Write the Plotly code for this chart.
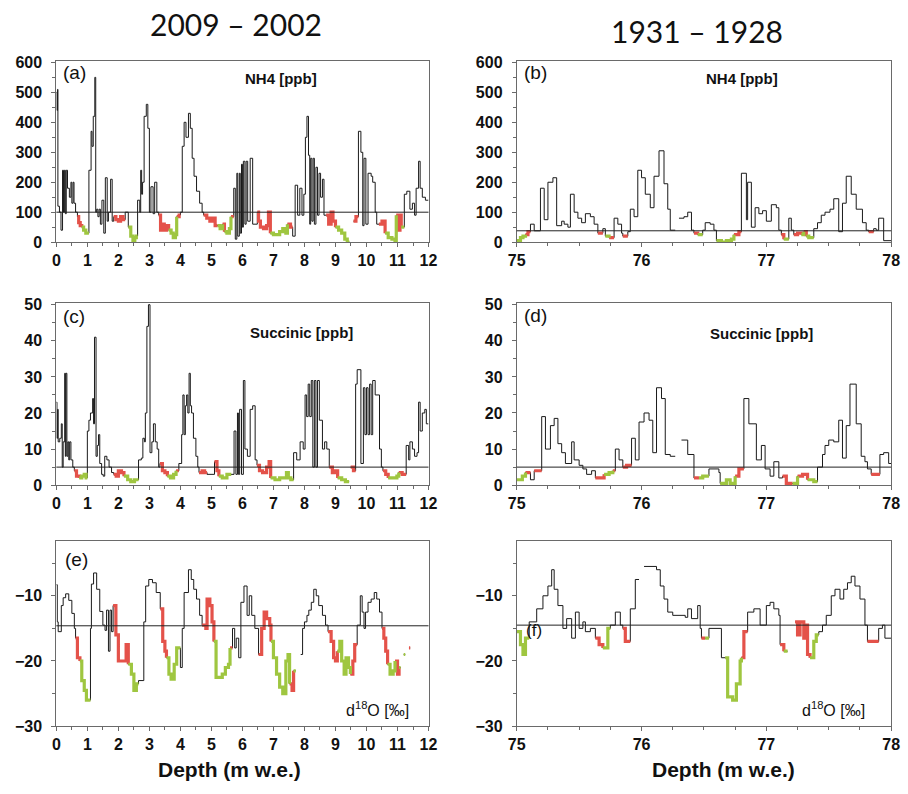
import plotly.graph_objects as go

W, H = 908, 794

# ---------------- (a) NH4, 2009-2002 ----------------
a_depth = [0.00,0.02,0.04,0.05,0.10,0.15,0.20,0.23,0.26,0.29,
           0.32,0.36,0.42,0.47,0.50,0.54,0.57,0.62,0.68,0.72,
           0.77,0.82,0.88,0.95,1.05,1.12,1.15,1.19,1.24,1.27,
           1.30,1.34,1.38,1.42,1.47,1.53,1.58,1.64,1.68,1.75,
           1.80,1.85,1.92,2.00,2.07,2.15,2.22,2.32,2.40,2.47,
           2.53,2.58,2.62,2.69,2.72,2.75,2.78,2.83,2.90,2.95,
           3.00,3.05,3.12,3.17,3.24,3.30,3.36,3.42,3.48,3.55,
           3.62,3.70,3.77,3.84,3.88,3.96,4.00,4.06,4.12,4.18,
           4.26,4.32,4.38,4.44,4.52,4.62,4.70,4.75,4.85,4.95,
           5.05,5.12,5.20,5.28,5.36,5.42,5.50,5.58,5.63,5.72,
           5.77,5.82,5.85,5.90,5.93,5.97,6.00,6.03,6.08,6.12,
           6.17,6.25,6.33,6.40,6.48,6.52,6.58,6.68,6.78,6.84,
           6.90,7.00,7.10,7.20,7.30,7.40,7.45,7.55,7.62,7.70,
           7.78,7.85,7.92,7.98,8.03,8.08,8.13,8.17,8.20,8.24,
           8.28,8.32,8.37,8.42,8.47,8.52,8.58,8.63,8.70,8.78,
           8.86,8.92,9.00,9.10,9.20,9.30,9.38,9.45,9.58,9.66,
           9.74,9.82,9.88,9.92,9.98,10.05,10.15,10.20,10.28,10.33,
           10.40,10.50,10.60,10.70,10.82,10.92,10.96,11.02,11.08,11.12,
           11.22,11.30,11.40,11.48,11.55,11.60,11.68,11.73,11.80,11.90]
a_nh4 = [500,440,510,120,100,40,240,100,240,95,
         240,180,150,200,130,200,130,100,85,65,
         55,50,40,30,240,370,320,420,550,100,
         110,85,110,60,140,30,215,70,100,210,
         70,85,75,70,85,75,100,50,20,0,
         15,20,140,100,240,160,200,420,460,380,
         100,185,95,200,100,90,40,60,40,55,
         40,30,15,25,85,90,100,320,400,350,
         430,380,280,220,170,130,100,90,80,70,
         80,55,55,45,60,35,30,45,85,180,
         10,230,20,230,30,260,50,270,60,270,
         70,280,60,60,100,70,50,45,55,100,
         30,25,25,35,45,30,60,50,20,190,
         90,180,90,160,350,420,290,60,280,70,
         280,60,250,90,230,150,210,90,90,60,
         100,70,50,40,30,10,0,None,70,85,
         370,300,55,280,60,230,220,200,100,60,
         60,70,30,15,10,0,90,40,90,50,
         160,170,110,130,90,180,270,180,150,140]
a_col = list("kkkkkkkkkk" "kkkkkkkkrr" "rgggkkkkkk" "kkkkkkkkkk" "krrrrrkggg"
             "ggkkkkkkkk" "kkkkkrrrrr" "ggggrrkkkk" "kkkkkkkrrr" "rrggrgggrk"
             "kkkkkkkkkk" "kkkkrrrrrr" "ggggggrrkk" "kkkkkkkkkk" "kkkkkkkkrr"
             "rrgggggkrr" "kkkkkkkkkk" "rrggggrrrg" "kkkkkkkkkk")

# ---------------- (b) NH4, 1931-1928 ----------------
b_depth = [75.00,75.03,75.05,75.07,75.09,75.11,75.14,75.19,75.22,75.25,
           75.29,75.32,75.36,75.38,75.41,75.43,75.46,75.49,75.52,75.55,
           75.59,75.62,75.65,75.69,75.71,75.74,75.78,75.81,75.84,75.85,
           75.89,75.91,75.94,75.97,76.00,76.03,76.07,76.10,76.14,76.18,
           76.21,76.23,76.27,76.30,76.34,76.37,76.40,76.42,76.45,76.49,
           76.51,76.55,76.58,76.60,76.64,76.68,76.72,76.74,76.78,76.80,
           76.84,76.85,76.88,76.91,76.94,76.97,77.00,77.04,77.08,77.10,
           77.12,77.14,77.18,77.20,77.22,77.25,77.28,77.30,77.32,77.34,
           77.38,77.41,77.44,77.47,77.51,77.54,77.58,77.61,77.64,77.68,
           77.72,77.77,77.80,77.82,77.86,77.88,77.90,77.94]
b_nh4 = [5,15,20,25,35,60,38,180,75,200,
         215,55,70,60,50,160,100,80,65,95,
         85,60,30,45,20,15,80,60,30,20,
         35,110,85,240,215,160,115,220,305,195,
         110,40,None,80,85,100,40,30,25,40,
         65,60,40,5,0,5,10,25,35,230,
         75,200,50,115,95,105,70,125,115,40,
         25,10,80,40,25,30,25,35,20,15,
         45,65,90,100,110,145,35,130,220,160,
         110,65,40,35,45,40,80,5]
b_col = list("gggrrkkkkk" "kkkkkkkkkk" "kkrkgrkkkr" "kkkkkkkkkk" "kkkkkkkrgk"
             "kkkggggrrk" "kkkkkkkkkk" "rgkkrrgrgg" "kkkkkkkkkk" "kkkrkkkk")

# ---------------- (c) Succinic, 2009-2002 ----------------
c_depth = [0.00,0.02,0.04,0.06,0.11,0.16,0.19,0.22,0.27,0.29,
           0.31,0.34,0.37,0.40,0.43,0.47,0.53,0.58,0.65,0.74,
           0.82,0.90,0.96,1.00,1.05,1.10,1.17,1.20,1.23,1.28,
           1.32,1.36,1.40,1.46,1.51,1.56,1.63,1.70,1.78,1.85,
           1.93,2.00,2.10,2.18,2.30,2.40,2.52,2.65,2.74,2.79,
           2.84,2.87,2.92,2.97,3.02,3.08,3.13,3.19,3.25,3.30,
           3.34,3.42,3.50,3.58,3.68,3.78,3.86,3.95,4.04,4.08,
           4.12,4.16,4.20,4.24,4.28,4.32,4.36,4.42,4.50,4.56,
           4.60,4.70,4.78,4.86,5.10,5.18,5.24,5.35,5.50,5.64,
           5.73,5.79,5.84,5.87,5.91,5.97,6.03,6.08,6.16,6.25,
           6.33,6.41,6.47,6.55,6.65,6.78,6.86,6.91,7.05,7.20,
           7.42,7.48,7.56,7.65,7.75,7.86,7.96,8.02,8.07,8.12,
           8.17,8.22,8.27,8.32,8.37,8.42,8.48,8.58,8.65,8.72,
           8.80,8.90,9.00,9.07,9.20,9.32,9.44,9.49,9.58,9.65,
           9.70,9.82,9.90,9.95,10.00,10.05,10.10,10.15,10.20,10.28,
           10.42,10.48,10.53,10.62,10.70,10.85,10.98,11.04,11.15,11.28,
           11.36,11.40,11.48,11.55,11.63,11.68,11.73,11.80,11.88,11.93]
c_succ = [23,13,21,12,13,17,5,12,31,8,
          31,8,12,7,12,7,5,4,2.5,2,
          2.5,3,2,15,18,20,24,17,41,8,
          11,14,6,3,2.5,8,7,5,3.5,3,
          2.5,4,3.5,2.5,1.5,1,1.5,7,7.5,13,
          12,20,44,50,9,12,17,12,10,5,
          6,4,3.5,2.5,2,3,4,6,14,25,
          14,22,25,20,31,22,20,13,8,5,
          3.5,4,3.5,3,6.5,4,2.5,2,3,3,
          15,3,20,3,21,3,29,10,8,21,
          22,7,5.5,4,3.5,5,6.5,2,1.5,2,
          3.5,2,1.5,9,7,12,10,25,19,28,
          19,29,5,29,5,29,18,10,12,10,
          5,3.5,4,2,1.5,1,None,5,4,28,
          32,6,27,14,27,14,28,14,29,25,
          10,5,4,3,2,2,2.5,3.5,3,11,
          7,12,10,8,9,23,15,20,21,17]
c_col = list("kkkkkkkkkk" "kkkkkkkrrg" "gggkkkkkkk" "kkkkkkkkkr" "rrrggggkkk"
             "kkkkkkkkkk" "rrrgggrkkk" "kkkkkkkkkk" "rrrkrrgggk" "kkkkkkkkkk"
             "kkrrrrrggg" "gggkkkkkkk" "kkkkkkkkkk" "rrrgggkrrk" "kkkkkkkkkk"
             "kkrrgggrrk" "kkkkkkkkkk")

# ---------------- (d) Succinic, 1931-1928 ----------------
d_depth = [75.00,75.045,75.07,75.11,75.14,75.20,75.23,75.27,75.30,75.33,
           75.36,75.39,75.44,75.46,75.50,75.53,75.56,75.60,75.63,75.66,
           75.70,75.74,75.77,75.79,75.82,75.85,75.88,75.92,75.95,75.98,
           76.02,76.06,76.09,76.12,76.16,76.19,76.23,76.27,76.32,76.37,
           76.42,76.46,76.49,76.54,76.62,76.63,76.68,76.71,76.75,76.78,
           76.82,76.86,76.92,76.96,76.99,77.03,77.06,77.10,77.13,77.16,
           77.21,77.25,77.29,77.33,77.38,77.41,77.45,77.47,77.50,77.54,
           77.58,77.61,77.64,77.67,77.72,77.76,77.79,77.81,77.84,77.91,
           77.94,77.98]
d_succ = [1.5,2.5,3.5,1.5,4,19,10,16.5,18.5,11.5,
          9,6,12,7,5.5,4.5,3,4,2,2,
          3,3.5,4,10,7,5,5.5,13,7,17.5,
          20,18,9,27,24,8.5,8,None,12.5,8.5,
          2,2,2.5,4.5,3.5,0.5,1.5,0.5,2.5,4.5,
          24,17,7,11,4.5,2.5,6.5,2,2.5,0.5,
          0.5,2.5,3,1.5,1,5,8.5,11,12.5,12,
          18,7.5,16.5,28,17,8,6.5,4.5,3,8.5,
          9,6]
d_col = list("ggrkrkkkkk" "kkkkkkkkrr" "ggrkkrrkkk" "kkkkkkkkkk" "rggkkgggrr"
             "kkkkkkkkrr" "grrggkkkkk" "kkkkkkkkrk" "kk")

# ---------------- (e) d18O, 2009-2002 ----------------
e_depth = [0.00,0.03,0.06,0.16,0.22,0.30,0.40,0.50,0.58,0.62,
           0.68,0.76,0.82,0.90,0.97,1.10,1.13,1.20,1.30,1.40,
           1.50,1.57,1.62,1.68,1.73,1.78,1.83,1.92,2.00,2.25,
           2.32,2.42,2.50,2.58,2.65,2.82,2.88,2.98,3.10,3.22,
           3.35,3.43,3.50,3.55,3.63,3.70,3.80,3.88,4.00,4.06,
           4.12,4.26,4.35,4.43,4.52,4.62,4.70,4.82,4.86,4.95,
           5.02,5.08,5.15,5.35,5.45,5.55,5.60,5.68,5.75,5.80,
           5.88,5.95,6.05,6.15,6.22,6.30,6.40,6.52,6.62,6.70,
           6.78,6.88,6.92,7.00,7.10,7.20,7.30,7.40,7.47,7.52,
           7.60,7.65,7.72,7.88,7.94,8.00,8.08,8.14,8.22,8.30,
           8.38,8.46,8.58,8.68,8.76,8.86,8.94,9.00,9.06,9.14,
           9.20,9.28,9.34,9.42,9.48,9.56,9.62,9.70,9.80,9.86,
           9.92,9.97,10.05,10.15,10.25,10.33,10.42,10.50,10.56,10.62,
           10.68,10.76,10.86,10.92,11.00,11.05,11.10,11.20,11.25,11.37,
           11.41]
e_d18o = [-8.3,-14,-15.5,-11.5,-10.3,-9.7,-10.7,-12.7,-15,-16.5,
          -19.5,-20,-23,-24.5,-26,-15,-8.2,-6.5,-9,-12.4,
          -14.5,-15.3,-12.2,-18.5,-12.2,-15.5,-11.5,-16,-20,-17.5,
          -20.5,-22,-24.5,-23.5,-23,-14,-8.5,-7.5,-8,-9.5,
          -12,-17,-18.5,-19.5,-22,-22.8,-20.5,-18,-21,-15,
          -9.5,-6,-7.5,-9,-10.5,-13,-14.5,-15,-10.5,-11.5,
          -14,-17,-22.5,-22,-21,-20.5,-18,-15,-18,-16.5,
          -19.5,-11,-8.5,-13,-10,-13,-15,-19,-15,-12.5,
          -13.5,-14.5,-17,-19.5,-22,-24,-25,-20,-19,-23.5,
          -24.5,-21.5,None,-19,-15,-14,-13,-12.2,-11,-9,
          -10,-11.5,-13,-14.5,-15.5,-17,-19.5,-20,-18.5,-17,
          -20,-22,-19.5,-21,-22,-20,-17.5,-14.5,-10,-12.5,
          -15,-12.5,-11,-10.5,-9.5,-10.5,-12.5,-15,-16.5,-18.5,
          -20.5,-22,-21.5,-20,-22,-21,None,-19,None,-18,
          None]
e_col = list("kkkkkkkkkr" "rggggkkkkk" "kkkkkkrrrr" "ggggkkkkkk" "rrrgggggkk"
             "kkkkkkrrrr" "rgggggrkkk" "kkkkkkkrrr" "rrgggggggr" "rgkkkkkkkk"
             "kkkkrrrrgg" "ggggrrrkkk" "kkkkkkkrrr" "gggrrgkgkr" "k")

# ---------------- (f) d18O, 1931-1928 ----------------
f_depth = [75.00,75.03,75.05,75.07,75.10,75.16,75.21,75.25,75.28,75.30,
           75.33,75.37,75.40,75.44,75.47,75.50,75.53,75.55,75.59,75.63,
           75.66,75.69,75.73,75.75,75.79,75.83,75.85,75.87,75.91,75.95,
           75.98,76.02,76.12,76.15,76.18,76.21,76.25,76.35,76.37,76.40,
           76.45,76.47,76.48,76.51,76.54,76.64,76.67,76.69,76.73,76.76,
           76.79,76.80,76.82,76.85,76.90,76.95,77.00,77.03,77.06,77.10,
           77.11,77.14,77.17,77.23,77.25,77.27,77.30,77.32,77.33,77.35,
           77.38,77.40,77.42,77.45,77.48,77.52,77.55,77.59,77.62,77.65,
           77.68,77.71,77.75,77.79,77.81,77.90,77.93,77.95]
f_d18o = [-15.5,-17.5,-19,-16.5,-14,-12,-10,-8.5,-6,-9,
          -11.5,-15,-13.5,-16.5,-12.5,-15,-14,-15.5,-15,-16.5,
          -17.5,-18,-15,-14.5,-12.5,-14.5,-15,-17,-12,-7.5,
          None,-5.5,-6,-8.5,-10.5,-12.5,-13,-13.3,-12,-13.5,
          -11.5,-15,-16.5,-16.5,-15,-19.5,-19.5,-25.5,-26,-23.5,
          -20,-19.5,-15.5,-12.5,-12,-14.5,-11.5,-11,-12,-13,
          -17.5,-18.5,None,-14,-16,-14,-16.5,-14.5,-19,-19.5,
          -17,-16,-15.5,-14.5,-13,-10,-9,-10.5,-9,-8,
          -7,-8.5,-10.5,-14.5,-17,-15,-14.5,-16.5]
f_col = list("ggggkkkkkk" "kkkkkkkkkr" "rggkkkrrkk" "kkkkkkkkkk" "kkrgkkgggg"
             "grrkkkkkkk" "rgkrrrrrrg" "ggkkkkkkkk" "kkkkrkkk")

# thresholds
thr = {"a": 100, "b": 38, "c": 5, "d": 5, "e": -14.6, "f": -14.5}

RED = "#e4524a"
GREEN = "#9fc640"
FONT = "Liberation Sans, Arial, sans-serif"
NARROW = "Liberation Sans Narrow, Arial Narrow, Liberation Sans, sans-serif"


def black_path(depth, vals, end):
    xs, ys = [], []
    n = len(depth)
    for i in range(n):
        v = vals[i]
        nxt = depth[i + 1] if i + 1 < n else end
        if v is None:
            xs.append(None); ys.append(None)
            continue
        xs += [depth[i], nxt]; ys += [v, v]
    return xs, ys


def color_path(depth, vals, cols, c, end):
    xs, ys = [], []
    n = len(depth)
    inrun = False
    for i in range(n):
        v = vals[i]
        if cols[i] != c or v is None:
            if inrun:
                xs.append(None); ys.append(None)
            inrun = False
            continue
        nxt = depth[i + 1] if i + 1 < n else end
        xs += [depth[i], nxt]; ys += [v, v]
        inrun = True
        if i + 1 < n and cols[i + 1] in "rg" and cols[i + 1] != c and vals[i + 1] is not None:
            xs.append(depth[i + 1]); ys.append(vals[i + 1])
    return xs, ys


panels = [
    ("a", "x", "y", a_depth, a_nh4, a_col, 12.0),
    ("b", "x2", "y2", b_depth, b_nh4, b_col, 78.0),
    ("c", "x3", "y3", c_depth, c_succ, c_col, 12.0),
    ("d", "x4", "y4", d_depth, d_succ, d_col, 78.0),
    ("e", "x5", "y5", e_depth, e_d18o, e_col, 11.45),
    ("f", "x6", "y6", f_depth, f_d18o, f_col, 78.0),
]

fig = go.Figure()
shapes = []
for key, xa, ya, dep, val, col, end in panels:
    assert len(dep) == len(val) == len(col), (key, len(dep), len(val), len(col))
    bx, by = black_path(dep, val, end)
    fig.add_trace(go.Scatter(x=bx, y=by, mode="lines", xaxis=xa, yaxis=ya,
                             line=dict(color="#1a1a1a", width=1), showlegend=False,
                             hoverinfo="skip"))
    for c, clr in (("r", RED), ("g", GREEN)):
        cx, cy = color_path(dep, val, col, c, end)
        fig.add_trace(go.Scatter(x=cx, y=cy, mode="lines", xaxis=xa, yaxis=ya,
                                 line=dict(color=clr, width=3.2), showlegend=False,
                                 hoverinfo="skip"))
    xd = "x domain" if xa == "x" else xa + " domain"
    shapes.append(dict(type="line", xref=xd, yref=ya, x0=0, x1=1,
                       y0=thr[key], y1=thr[key], line=dict(color="#222", width=1)))

LX = [48.3 / W, 428 / W]
RX = [518 / W, 900 / W]


def ydom(top, bot):
    return [1 - bot / H, 1 - top / H]


tickfont = dict(family=NARROW, size=16, color="#111", weight="bold")
AX = dict(showline=True, linecolor="#6a6a6a", linewidth=1, mirror=True,
          ticks="outside", ticklen=4, tickcolor="#6a6a6a", showgrid=False,
          zeroline=False, tickfont=tickfont)


def xax(dom, rng, dtick, minor):
    d = dict(AX); d.update(domain=dom, range=rng, dtick=dtick, tick0=rng[0],
                           minor=dict(ticks="outside", ticklen=3, dtick=minor,
                                      tickcolor="#6a6a6a"))
    return d


def yax(dom, rng, dtick, minor, anchor):
    d = dict(AX); d.update(domain=dom, range=rng, dtick=dtick, tick0=0, anchor=anchor,
                           ticklabelstandoff=6,
                           minor=dict(ticks="outside", ticklen=3, dtick=minor,
                                      tickcolor="#6a6a6a"))
    return d


r1 = ydom(55, 240)
r2 = ydom(302, 488)
r3 = ydom(545, 734)

fig.update_layout(
    width=W, height=H, margin=dict(l=0, r=0, t=0, b=0), autosize=False,
    paper_bgcolor="white", plot_bgcolor="white",
    xaxis=dict(xax(LX, [0, 12], 1, 0.5), anchor="y"),
    yaxis=yax(r1, [0, 605], 100, 50, "x"),
    xaxis2=dict(xax(RX, [75, 78], 1, 0.25), anchor="y2"),
    yaxis2=yax(r1, [0, 605], 100, 50, "x2"),
    xaxis3=dict(xax(LX, [0, 12], 1, 0.5), anchor="y3"),
    yaxis3=yax(r2, [0, 50.5], 10, 5, "x3"),
    xaxis4=dict(xax(RX, [75, 78], 1, 0.25), anchor="y4"),
    yaxis4=yax(r2, [0, 50.5], 10, 5, "x4"),
    xaxis5=dict(xax(LX, [0, 12], 1, 0.5), anchor="y5"),
    yaxis5=yax(r3, [-30, -1.6], 10, 5, "x5"),
    xaxis6=dict(xax(RX, [75, 78], 1, 0.25), anchor="y6"),
    yaxis6=yax(r3, [-30, -1.6], 10, 5, "x6"),
    shapes=shapes,
)


def ann(text, x, y, size, bold=False, xanchor="center", family=FONT, color="#111"):
    f = dict(family=family, size=size, color=color)
    if bold:
        f["weight"] = "bold"
    return dict(text=text, x=x / W, y=1 - y / H, xref="paper", yref="paper",
                xanchor=xanchor, yanchor="middle", showarrow=False, font=f)


anns = [
    ann("2009 – 2002", 232, 17, 30, family="Lato, Open Sans, sans-serif"),
    ann("1931 – 1928", 702, 24, 30, family="Lato, Open Sans, sans-serif"),
    ann("(a)", 53, 67, 19, xanchor="left"),
    ann("NH4 [ppb]", 277, 73, 15, bold=True),
    ann("(b)", 523, 67, 19, xanchor="left"),
    ann("NH4 [ppb]", 748, 73, 15, bold=True),
    ann("(c)", 53, 316, 19, xanchor="left"),
    ann("Succinic [ppb]", 298, 332, 15, bold=True),
    ann("(d)", 523, 315, 19, xanchor="left"),
    ann("Succinic [ppb]", 768, 333, 15, bold=True),
    ann("(e)", 55, 564, 19, xanchor="left"),
    ann("d<sup>18</sup>O [‰]", 376, 716, 16),
    ann("(f)", 525, 636, 17, xanchor="left"),
    ann("d<sup>18</sup>O [‰]", 841, 716, 16),
    ann("Depth (m w.e.)", 225, 778, 21, bold=True),
    ann("Depth (m w.e.)", 729, 778, 21, bold=True),
]
fig.update_layout(annotations=anns)

fig.write_html("out.html")
